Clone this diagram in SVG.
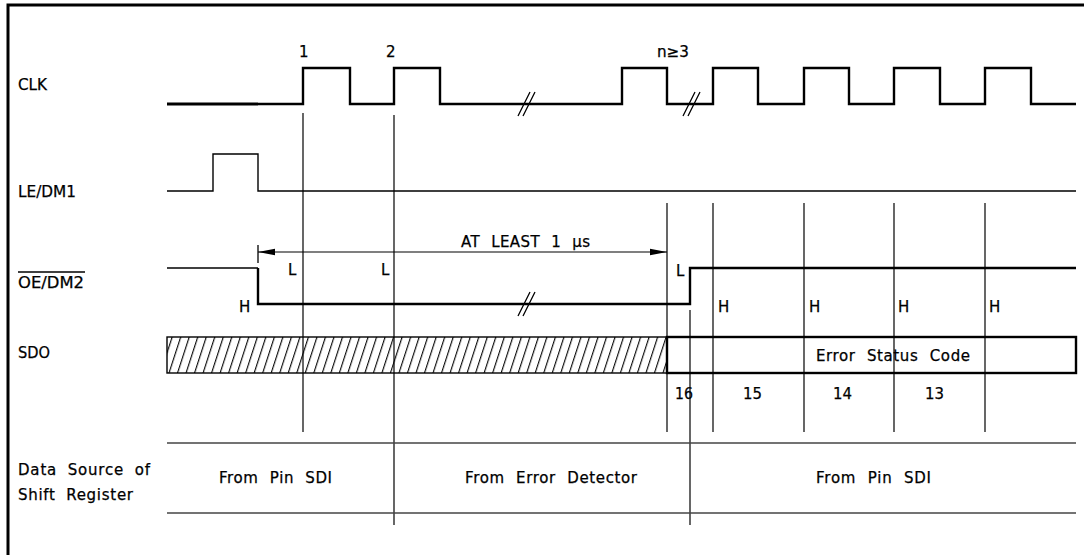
<svg xmlns="http://www.w3.org/2000/svg" width="1084" height="555" viewBox="0 0 1084 555">
<style>
text{font-family:"DejaVu Sans","Liberation Sans",Arial,sans-serif;font-size:15px;fill:#000;stroke:#000;stroke-width:0.25}
.w{fill:none;stroke:#000;stroke-width:2.4;stroke-linejoin:miter}
.t{fill:none;stroke:#000;stroke-width:1.4}
.g{fill:none;stroke:#000;stroke-width:1.2}
.h{fill:none;stroke:#444;stroke-width:1.6}
.br{fill:none;stroke:#000;stroke-width:1.3}
</style>
<defs>
<pattern id="hatch" patternUnits="userSpaceOnUse" width="8.1" height="12" patternTransform="rotate(18)">
<line x1="0.6" y1="-2" x2="0.6" y2="14" stroke="#000" stroke-width="1.1"/>
</pattern>
<marker id="ah" viewBox="0 0 17 10" refX="17" refY="5" markerWidth="17" markerHeight="10" markerUnits="userSpaceOnUse" orient="auto-start-reverse">
<path d="M0,1.8 L17,5 L0,8.2 Z" fill="#000"/>
</marker>
</defs>
<rect width="1084" height="555" fill="#fff"/>
<g id="frame">
<polyline points="8,555 8,5 1084,5" fill="none" stroke="#000" stroke-width="3"/>
</g>
<g id="labels">
<text x="18" y="90" textLength="29" lengthAdjust="spacingAndGlyphs">CLK</text>
<text x="18" y="197" textLength="58" lengthAdjust="spacingAndGlyphs">LE/DM1</text>
<text x="18" y="288" textLength="66" lengthAdjust="spacingAndGlyphs">OE/DM2</text>
<line x1="18" y1="272" x2="85" y2="272" stroke="#000" stroke-width="1.3"/>
<text x="18" y="358" textLength="32" lengthAdjust="spacingAndGlyphs">SDO</text>
<text x="18" y="475" textLength="132" lengthAdjust="spacing" word-spacing="5">Data Source of</text>
<text x="18" y="500" textLength="115" lengthAdjust="spacing" word-spacing="5">Shift Register</text>
</g>
<g id="clk">
<line x1="167" y1="104" x2="258" y2="104" stroke="#000" stroke-width="3.2"/>
<polyline class="w" points="258,104 303,104 303,68 350,68 350,104 394,104 394,68 440,68 440,104 622,104 622,68 667,68 667,104 713,104 713,68 758,68 758,104 804,104 804,68 849,68 849,104 894,104 894,68 940,68 940,104 985,104 985,68 1031,68 1031,104 1076,104"/>
<path class="br" d="M518,116 L530,92 M523,116 L535,92 M683,116 L695,92 M688,116 L700,92"/>
<text x="299" y="57">1</text>
<text x="386" y="57">2</text>
<text x="657" y="57" textLength="32" lengthAdjust="spacingAndGlyphs">n≥3</text>
</g>
<g id="le">
<polyline class="t" points="167,191 213,191 213,154 258,154 258,191 1076,191"/>
</g>
<g id="oe">
<polyline class="t" points="167,268 258,268"/>
<polyline class="w" points="258,268 258,304 690,304 690,268 1076,268"/>
<path class="br" d="M518,316 L530,292 M523,316 L535,292"/>
<text x="288" y="275">L</text>
<text x="381" y="275">L</text>
<text x="676" y="276">L</text>
<text x="239" y="312">H</text>
<text x="718" y="312">H</text>
<text x="809" y="312">H</text>
<text x="898" y="312">H</text>
<text x="989" y="312">H</text>
</g>
<g id="timing">
<line x1="258" y1="245" x2="258" y2="263" stroke="#000" stroke-width="1.3"/>
<line x1="258" y1="252" x2="667" y2="252" stroke="#000" stroke-width="1.2" marker-start="url(#ah)" marker-end="url(#ah)"/>
<text x="461" y="247" textLength="129" lengthAdjust="spacing" word-spacing="6">AT LEAST 1 µs</text>
</g>
<g id="sdo">
<rect x="167" y="337" width="500" height="36" fill="url(#hatch)" stroke="#000" stroke-width="1.4"/>
<rect x="667" y="337" width="409" height="36" fill="#fff" stroke="#000" stroke-width="2.4"/>
<text x="816" y="361" textLength="154" lengthAdjust="spacing" word-spacing="6">Error Status Code</text>
<text x="675" y="399" textLength="18" lengthAdjust="spacingAndGlyphs">16</text>
<text x="743" y="399" textLength="19" lengthAdjust="spacingAndGlyphs">15</text>
<text x="833" y="399" textLength="19" lengthAdjust="spacingAndGlyphs">14</text>
<text x="925" y="399" textLength="19" lengthAdjust="spacingAndGlyphs">13</text>
</g>
<g id="connectors">
<line class="g" x1="303" y1="113" x2="303" y2="432"/>
<line class="g" x1="394" y1="115" x2="394" y2="525"/>
<line class="g" x1="667" y1="203" x2="667" y2="432"/>
<line class="g" x1="713" y1="203" x2="713" y2="432"/>
<line class="g" x1="804" y1="203" x2="804" y2="432"/>
<line class="g" x1="894" y1="203" x2="894" y2="432"/>
<line class="g" x1="985" y1="203" x2="985" y2="432"/>
<line class="g" x1="690" y1="310" x2="690" y2="525" stroke-width="1.6"/>
</g>
<g id="source">
<line class="h" x1="167" y1="443" x2="1076" y2="443"/>
<line class="h" x1="167" y1="513" x2="1076" y2="513"/>
<text x="219" y="483" textLength="113" lengthAdjust="spacing" word-spacing="6">From Pin SDI</text>
<text x="465" y="483" textLength="172" lengthAdjust="spacing" word-spacing="6">From Error Detector</text>
<text x="816" y="483" textLength="115" lengthAdjust="spacing" word-spacing="6">From Pin SDI</text>
</g>
</svg>
